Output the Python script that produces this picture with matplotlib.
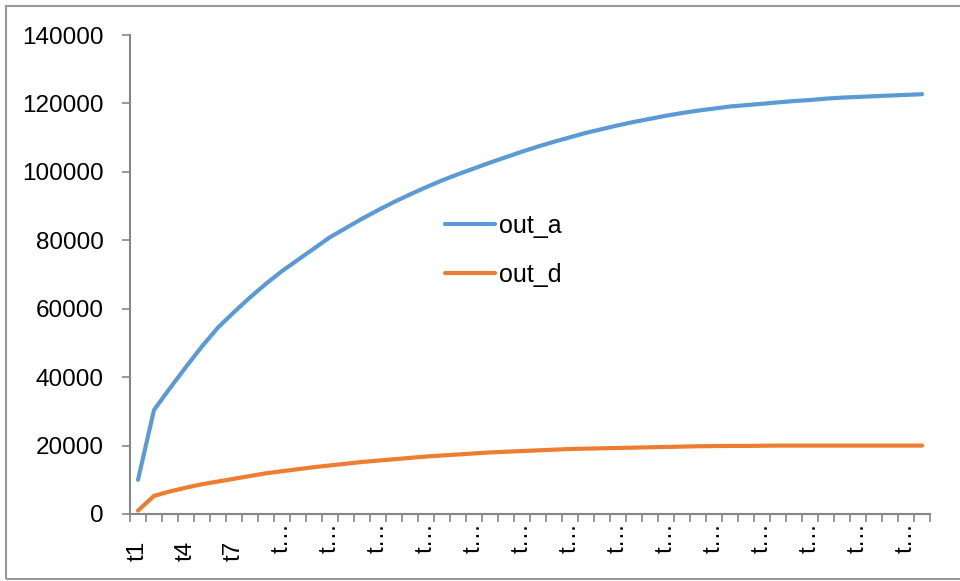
import numpy as np
import matplotlib
matplotlib.use("Agg")
import matplotlib.pyplot as plt
import matplotlib.transforms as mtransforms
from matplotlib.patches import Rectangle

plt.rcParams['font.family'] = ['Liberation Sans', 'DejaVu Sans']

categories = ['t%d' % i for i in range(1, 51)]

out_a = [10000, 30400, 36800, 43000, 49000, 54500, 59000, 63300, 67300, 71000,
         74300, 77600, 80900, 83600, 86300, 88800, 91200, 93400, 95500, 97500,
         99300, 101000, 102700, 104300, 105900, 107400, 108800, 110100, 111400, 112500,
         113600, 114600, 115500, 116400, 117200, 117900, 118500, 119100, 119500, 119900,
         120300, 120700, 121000, 121400, 121700, 121900, 122100, 122300, 122500, 122700]

out_d = [1000, 5300, 6600, 7700, 8700, 9500, 10300, 11100, 11900, 12500,
         13100, 13700, 14200, 14700, 15200, 15600, 16000, 16400, 16800, 17100,
         17400, 17700, 18000, 18200, 18400, 18600, 18800, 19000, 19100, 19200,
         19300, 19400, 19500, 19600, 19700, 19800, 19850, 19900, 19900, 19950,
         20000, 20000, 20000, 20000, 20000, 20000, 20000, 20000, 20000, 20000]

# Excel truncated most of the category labels
tick_labels = ['t1', 't4', 't7'] + ['t\u2026'] * 14

blue = '#5B9BD5'
orange = '#ED7D31'
axis_grey = '#868686'

fig = plt.figure(figsize=(9.6, 5.81), dpi=100)
ax = fig.add_axes([130 / 960, 1 - 514 / 581, 800 / 960, 479 / 581])

x = np.arange(len(categories))
ax.plot(x, out_a, color=blue, lw=3, label='out_a', solid_capstyle='round')
ax.plot(x, out_d, color=orange, lw=3, label='out_d', solid_capstyle='round')

ax.set_xlim(-0.5, len(categories) - 0.5)
ax.set_ylim(0, 140000)
ax.set_yticks(np.arange(0, 140001, 20000))

ax.set_xticks(x[::3])
ax.set_xticklabels(tick_labels, rotation=90, va='top', ha='center')
ax.set_xticks(np.arange(-0.5, len(categories), 1), minor=True)
ax.tick_params(axis='x', which='major', length=0, pad=6, labelsize=17.5)
ax.tick_params(axis='x', which='minor', length=6, width=1.2, color=axis_grey, direction='out')
ax.tick_params(axis='y', length=6, width=1.2, color=axis_grey, pad=13, labelsize=17.5)

# first three labels sit lower than the truncated ones
for lab in ax.get_xticklabels()[:3]:
    lab.set_transform(lab.get_transform() +
                      mtransforms.ScaledTranslation(0, -18 / 100, fig.dpi_scale_trans))

for side in ['top', 'right']:
    ax.spines[side].set_visible(False)
for side in ['left', 'bottom']:
    ax.spines[side].set_color(axis_grey)
    ax.spines[side].set_linewidth(1.5)

ax.legend(loc='center left', bbox_to_anchor=(0.394, 0.551), frameon=False,
          fontsize=18, handlelength=2.0, handletextpad=0.15, labelspacing=1.0,
          borderpad=0, borderaxespad=0)

fig.patches.append(Rectangle((6 / 960, 2 / 581), 1.0, 1 - 8 / 581,
                             transform=fig.transFigure, fill=False,
                             edgecolor='#9a9a9a', lw=1.5))

fig.savefig('out.png', dpi=100)
